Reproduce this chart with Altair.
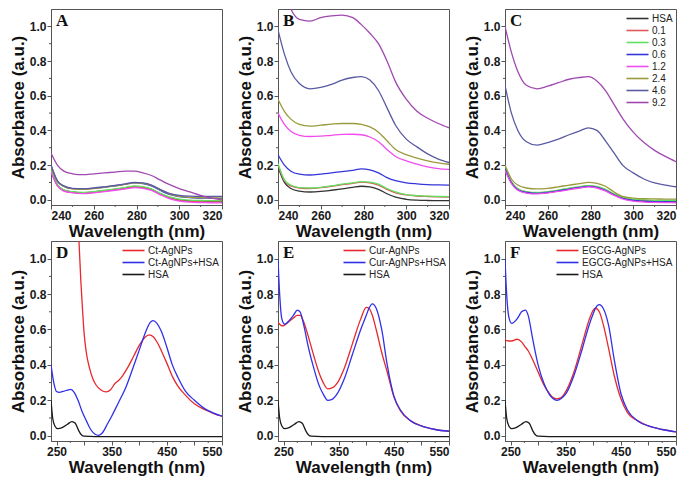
import altair as alt
import pandas as pd

# ---------------- top row data (panels A, B, C) ----------------
WL_TOP = [240, 243, 246, 250, 255, 260, 265, 270, 275, 279, 283, 287, 291, 295, 300, 305, 310, 315, 320]
SERIES_TOP = ["HSA", "0.1", "0.3", "0.6", "1.2", "2.4", "4.6", "9.2"]
COLORS_TOP = ["#333333", "#e05858", "#5fe05f", "#3535d8", "#f04cf0", "#9a9a3c", "#5a5aa2", "#a048b0"]

A_HSA = [0.17, 0.085, 0.055, 0.045, 0.040, 0.044, 0.052, 0.060, 0.068, 0.075, 0.072, 0.060, 0.035, 0.015, 0.000, -0.006, -0.008, -0.009, -0.010]
A_01 = [0.165, 0.082, 0.053, 0.043, 0.039, 0.043, 0.050, 0.058, 0.067, 0.074, 0.070, 0.058, 0.033, 0.012, -0.003, -0.009, -0.011, -0.012, -0.012]
A_03 = [0.17, 0.088, 0.058, 0.047, 0.043, 0.047, 0.055, 0.063, 0.072, 0.080, 0.076, 0.063, 0.038, 0.018, 0.004, -0.002, -0.004, -0.005, -0.005]
A_06 = [0.20, 0.108, 0.078, 0.064, 0.062, 0.066, 0.073, 0.081, 0.090, 0.097, 0.093, 0.080, 0.055, 0.032, 0.018, 0.012, 0.010, 0.009, 0.008]
A_12 = [0.16, 0.080, 0.050, 0.040, 0.036, 0.040, 0.047, 0.055, 0.063, 0.070, 0.066, 0.054, 0.030, 0.008, -0.008, -0.014, -0.016, -0.017, -0.018]
A_24 = [0.19, 0.105, 0.077, 0.063, 0.060, 0.065, 0.072, 0.080, 0.090, 0.098, 0.095, 0.083, 0.058, 0.035, 0.020, 0.014, 0.012, 0.011, 0.010]
A_46 = [0.20, 0.110, 0.080, 0.066, 0.064, 0.068, 0.075, 0.083, 0.092, 0.100, 0.097, 0.085, 0.060, 0.038, 0.025, 0.021, 0.020, 0.020, 0.020]
A_92 = [0.27, 0.200, 0.165, 0.150, 0.145, 0.150, 0.155, 0.160, 0.165, 0.165, 0.155, 0.140, 0.115, 0.090, 0.065, 0.045, 0.025, 0.010, 0.000]

B_HSA = [0.19, 0.100, 0.065, 0.050, 0.045, 0.048, 0.055, 0.063, 0.072, 0.078, 0.074, 0.060, 0.035, 0.015, 0.003, -0.002, -0.004, -0.005, -0.005]
B_01 = [0.20, 0.110, 0.080, 0.068, 0.065, 0.070, 0.078, 0.087, 0.095, 0.102, 0.098, 0.085, 0.060, 0.040, 0.028, 0.022, 0.019, 0.017, 0.016]
B_03 = [0.21, 0.115, 0.085, 0.070, 0.068, 0.072, 0.080, 0.090, 0.098, 0.105, 0.102, 0.090, 0.065, 0.045, 0.030, 0.024, 0.021, 0.019, 0.018]
B_06 = [0.26, 0.200, 0.165, 0.148, 0.143, 0.148, 0.155, 0.163, 0.170, 0.178, 0.172, 0.155, 0.128, 0.110, 0.098, 0.092, 0.088, 0.086, 0.085]
B_12 = [0.50, 0.435, 0.395, 0.372, 0.365, 0.367, 0.372, 0.377, 0.378, 0.375, 0.362, 0.335, 0.290, 0.250, 0.225, 0.205, 0.190, 0.180, 0.175]
B_24 = [0.58, 0.510, 0.465, 0.435, 0.425, 0.430, 0.436, 0.440, 0.440, 0.435, 0.420, 0.390, 0.340, 0.290, 0.260, 0.240, 0.225, 0.213, 0.205]
B_46 = [0.98, 0.840, 0.740, 0.670, 0.640, 0.648, 0.665, 0.690, 0.705, 0.710, 0.690, 0.630, 0.530, 0.430, 0.350, 0.305, 0.265, 0.235, 0.215]
B_92 = [1.35, 1.200, 1.100, 1.040, 1.030, 1.050, 1.060, 1.065, 1.050, 1.010, 0.960, 0.900, 0.800, 0.680, 0.580, 0.510, 0.470, 0.440, 0.415]

C_HSA = [0.18, 0.100, 0.060, 0.043, 0.038, 0.043, 0.052, 0.063, 0.072, 0.078, 0.072, 0.055, 0.030, 0.010, -0.002, -0.006, -0.008, -0.009, -0.010]
C_01 = [0.18, 0.102, 0.062, 0.045, 0.040, 0.045, 0.054, 0.065, 0.074, 0.080, 0.074, 0.057, 0.032, 0.012, 0.000, -0.004, -0.006, -0.007, -0.008]
C_03 = [0.19, 0.105, 0.064, 0.047, 0.042, 0.047, 0.056, 0.067, 0.076, 0.082, 0.077, 0.060, 0.035, 0.015, 0.003, -0.001, -0.003, -0.004, -0.004]
C_06 = [0.18, 0.098, 0.058, 0.042, 0.037, 0.042, 0.051, 0.062, 0.071, 0.077, 0.071, 0.054, 0.029, 0.008, -0.004, -0.008, -0.010, -0.011, -0.012]
C_12 = [0.17, 0.094, 0.055, 0.039, 0.034, 0.039, 0.048, 0.059, 0.068, 0.074, 0.068, 0.051, 0.026, 0.005, -0.008, -0.013, -0.015, -0.016, -0.017]
C_24 = [0.20, 0.120, 0.085, 0.068, 0.063, 0.066, 0.075, 0.085, 0.093, 0.100, 0.095, 0.078, 0.045, 0.020, 0.010, 0.006, 0.005, 0.004, 0.004]
C_46 = [0.66, 0.500, 0.400, 0.335, 0.315, 0.330, 0.350, 0.375, 0.398, 0.415, 0.400, 0.340, 0.270, 0.200, 0.155, 0.120, 0.097, 0.085, 0.075]
C_92 = [1.00, 0.850, 0.740, 0.660, 0.640, 0.655, 0.675, 0.695, 0.705, 0.710, 0.685, 0.630, 0.550, 0.470, 0.390, 0.330, 0.285, 0.250, 0.220]

# ---------------- bottom row data (panels D, E, F) ----------------
WL_HSA = [240, 243, 247, 252, 260, 270, 278, 284, 290, 295, 300, 320, 400, 550]
HSA_BOT = [0.20, 0.10, 0.055, 0.040, 0.045, 0.065, 0.080, 0.070, 0.030, 0.005, -0.003, -0.005, -0.005, -0.005]

WL_D_RED = [284, 288, 291, 294, 297, 300, 304, 310, 316, 322, 330, 340, 348, 356, 362, 370, 380, 390, 400, 410, 418, 425, 433, 440, 450, 460, 470, 484, 500, 520, 535, 550]
D_RED = [1.7, 1.35, 1.08, 0.88, 0.72, 0.58, 0.47, 0.38, 0.32, 0.285, 0.26, 0.247, 0.26, 0.295, 0.31, 0.34, 0.39, 0.45, 0.51, 0.555, 0.57, 0.56, 0.525, 0.48, 0.41, 0.335, 0.28, 0.228, 0.18, 0.145, 0.125, 0.11]
WL_D_BLUE = [240, 245, 250, 255, 262, 270, 276, 282, 289, 296, 304, 312, 320, 326, 332, 343, 350, 358, 366, 376, 386, 394, 404, 412, 420, 425, 432, 440, 450, 460, 470, 484, 500, 520, 535, 550]
D_BLUE = [0.40, 0.30, 0.25, 0.245, 0.25, 0.258, 0.262, 0.245, 0.20, 0.14, 0.085, 0.035, 0.008, 0.002, 0.012, 0.07, 0.11, 0.16, 0.21, 0.275, 0.36, 0.43, 0.52, 0.59, 0.64, 0.65, 0.635, 0.59, 0.50, 0.40, 0.33, 0.25, 0.20, 0.15, 0.128, 0.11]

WL_E = [240, 243, 247, 252, 260, 268, 275, 280, 287, 295, 305, 315, 322, 330, 338, 348, 360, 375, 390, 400, 405, 411, 418, 428, 438, 450, 462, 480, 500, 525, 550]
E_RED = [0.64, 0.63, 0.62, 0.625, 0.645, 0.665, 0.68, 0.68, 0.64, 0.56, 0.45, 0.35, 0.30, 0.265, 0.27, 0.30, 0.38, 0.52, 0.66, 0.725, 0.72, 0.68, 0.60, 0.47, 0.36, 0.22, 0.14, 0.085, 0.055, 0.035, 0.025]
E_BLUE = [1.00, 0.80, 0.66, 0.63, 0.65, 0.68, 0.71, 0.70, 0.62, 0.50, 0.38, 0.28, 0.235, 0.20, 0.205, 0.24, 0.32, 0.46, 0.60, 0.68, 0.72, 0.745, 0.72, 0.60, 0.40, 0.225, 0.145, 0.085, 0.055, 0.035, 0.025]

WL_F = [240, 243, 247, 252, 262, 270, 277, 282, 290, 300, 310, 320, 327, 334, 342, 352, 365, 380, 392, 400, 404, 411, 418, 428, 438, 450, 462, 480, 500, 525, 550]
F_RED = [0.54, 0.537, 0.535, 0.535, 0.545, 0.53, 0.50, 0.48, 0.43, 0.36, 0.29, 0.24, 0.215, 0.208, 0.215, 0.26, 0.36, 0.52, 0.65, 0.71, 0.72, 0.70, 0.63, 0.49, 0.34, 0.21, 0.13, 0.085, 0.055, 0.035, 0.022]
F_BLUE = [1.00, 0.80, 0.67, 0.635, 0.66, 0.70, 0.71, 0.68, 0.55, 0.40, 0.30, 0.235, 0.21, 0.20, 0.21, 0.245, 0.34, 0.49, 0.62, 0.69, 0.72, 0.74, 0.72, 0.62, 0.43, 0.24, 0.145, 0.085, 0.055, 0.035, 0.022]

BOT_COLORS = ["#e8282c", "#3030ea", "#1a1a1a"]

Y_TICKS = [0.0, 0.2, 0.4, 0.6, 0.8, 1.0]
Y_MINOR = [0.1, 0.3, 0.5, 0.7, 0.9]
X_TOP_TICKS = [240, 260, 280, 300, 320]
X_TOP_MINOR = [250, 270, 290, 310]
X_BOT_TICKS = [250, 300, 350, 400, 450, 500, 550]
X_BOT_MINOR = [275, 325, 375, 425, 475, 525]


def long_df(pairs):
    rows = []
    for name, wls, vals in pairs:
        for w, v in zip(wls, vals):
            rows.append({"wl": w, "A": v, "series": name})
    return pd.DataFrame(rows)


def panel(df, letter, xdom, xticks, xminor, cdomain, crange, legend, w, h):
    xs = alt.Scale(domain=xdom, nice=False, zero=False)
    ys = alt.Scale(domain=[-0.03, 1.1], nice=False, zero=False)
    xa = alt.Axis(values=xticks, title="Wavelength (nm)")
    ya = alt.Axis(values=Y_TICKS, format=".1f", title="Absorbance (a.u.)")
    lines = alt.Chart(df).mark_line(clip=True, strokeWidth=1.3, interpolate="monotone").encode(
        x=alt.X("wl:Q", scale=xs, axis=xa),
        y=alt.Y("A:Q", scale=ys, axis=ya),
        color=alt.Color("series:N", scale=alt.Scale(domain=cdomain, range=crange), legend=legend),
        order=alt.Order("ord:Q"),
    )
    # minor ticks, placed through the shared scales
    mx = alt.Chart(pd.DataFrame({"wl": xminor})).mark_rule(color="#555555", strokeWidth=1).encode(
        x=alt.X("wl:Q", scale=xs, axis=xa), y=alt.value(h), y2=alt.value(h + 2))
    my = alt.Chart(pd.DataFrame({"A": Y_MINOR})).mark_rule(color="#555555", strokeWidth=1).encode(
        y=alt.Y("A:Q", scale=ys, axis=ya), x=alt.value(0), x2=alt.value(-2))
    lab = alt.Chart(pd.DataFrame({"t": [letter]})).mark_text(
        font="Liberation Serif", fontWeight="bold", fontSize=17, align="left", baseline="top", color="#111"
    ).encode(text="t:N", x=alt.value(5), y=alt.value(4))
    return alt.layer(lines, mx, my, lab).properties(width=w, height=h)


def top_df(vals):
    d = long_df([(s, WL_TOP, v) for s, v in zip(SERIES_TOP, vals)])
    d["ord"] = d["series"].map({s: i for i, s in enumerate(SERIES_TOP)})
    return d


dfA = top_df([A_HSA, A_01, A_03, A_06, A_12, A_24, A_46, A_92])
dfB = top_df([B_HSA, B_01, B_03, B_06, B_12, B_24, B_46, B_92])
dfC = top_df([C_HSA, C_01, C_03, C_06, C_12, C_24, C_46, C_92])


def bot_df(names, pairs):
    d = long_df([(n, wl, v) for n, (wl, v) in zip(names, pairs)])
    d["ord"] = 0
    return d


D_NAMES = ["Ct-AgNPs", "Ct-AgNPs+HSA", "HSA"]
E_NAMES = ["Cur-AgNPs", "Cur-AgNPs+HSA", "HSA"]
F_NAMES = ["EGCG-AgNPs", "EGCG-AgNPs+HSA", "HSA"]
dfD = bot_df(D_NAMES, [(WL_D_RED, D_RED), (WL_D_BLUE, D_BLUE), (WL_HSA, HSA_BOT)])
dfE = bot_df(E_NAMES, [(WL_E, E_RED), (WL_E, E_BLUE), (WL_HSA, HSA_BOT)])
dfF = bot_df(F_NAMES, [(WL_F, F_RED), (WL_F, F_BLUE), (WL_HSA, HSA_BOT)])


def leg(off):
    return alt.Legend(title=None, orient="top-right", offset=off, symbolType="M-2,0L2,0",
                      symbolSize=121, symbolStrokeWidth=1.6, labelFont="Liberation Sans",
                      labelFontSize=10, labelColor="#222", padding=0, rowPadding=0,
                      labelOffset=8)


W, HT, HB = 171, 196, 200
pA = panel(dfA, "A", [240, 320], X_TOP_TICKS, X_TOP_MINOR, SERIES_TOP, COLORS_TOP, None, W, HT)
pB = panel(dfB, "B", [240, 320], X_TOP_TICKS, X_TOP_MINOR, SERIES_TOP, COLORS_TOP, None, W, HT)
pC = panel(dfC, "C", [240, 320], X_TOP_TICKS, X_TOP_MINOR, SERIES_TOP, COLORS_TOP, leg(3), W, HT)
pD = panel(dfD, "D", [240, 550], X_BOT_TICKS, X_BOT_MINOR, D_NAMES, BOT_COLORS, leg(3), W, HB)
pE = panel(dfE, "E", [240, 550], X_BOT_TICKS, X_BOT_MINOR, E_NAMES, BOT_COLORS, leg(3), W, HB)
pF = panel(dfF, "F", [240, 550], X_BOT_TICKS, X_BOT_MINOR, F_NAMES, BOT_COLORS, leg(3), W, HB)

top = alt.hconcat(pA, pB, pC, spacing=12).resolve_scale(color="independent")
bot = alt.hconcat(pD, pE, pF, spacing=12).resolve_scale(color="independent")

chart = alt.vconcat(top, bot, spacing=0).resolve_scale(color="independent").properties(
    padding=0, background="white"
).configure_view(stroke="#555555", strokeWidth=1).configure_axis(
    grid=False, domainColor="#555555", tickColor="#555555", tickSize=4, labelPadding=1,
    labelFont="Liberation Sans", labelFontWeight="bold", labelFontSize=12, labelColor="#1a1a1a",
    titleFont="Liberation Sans", titleFontWeight="bold", titleFontSize=17, titleColor="#111111",
    titlePadding=2
)

chart.save("out.html", embed_options={"renderer": "svg", "actions": False})
